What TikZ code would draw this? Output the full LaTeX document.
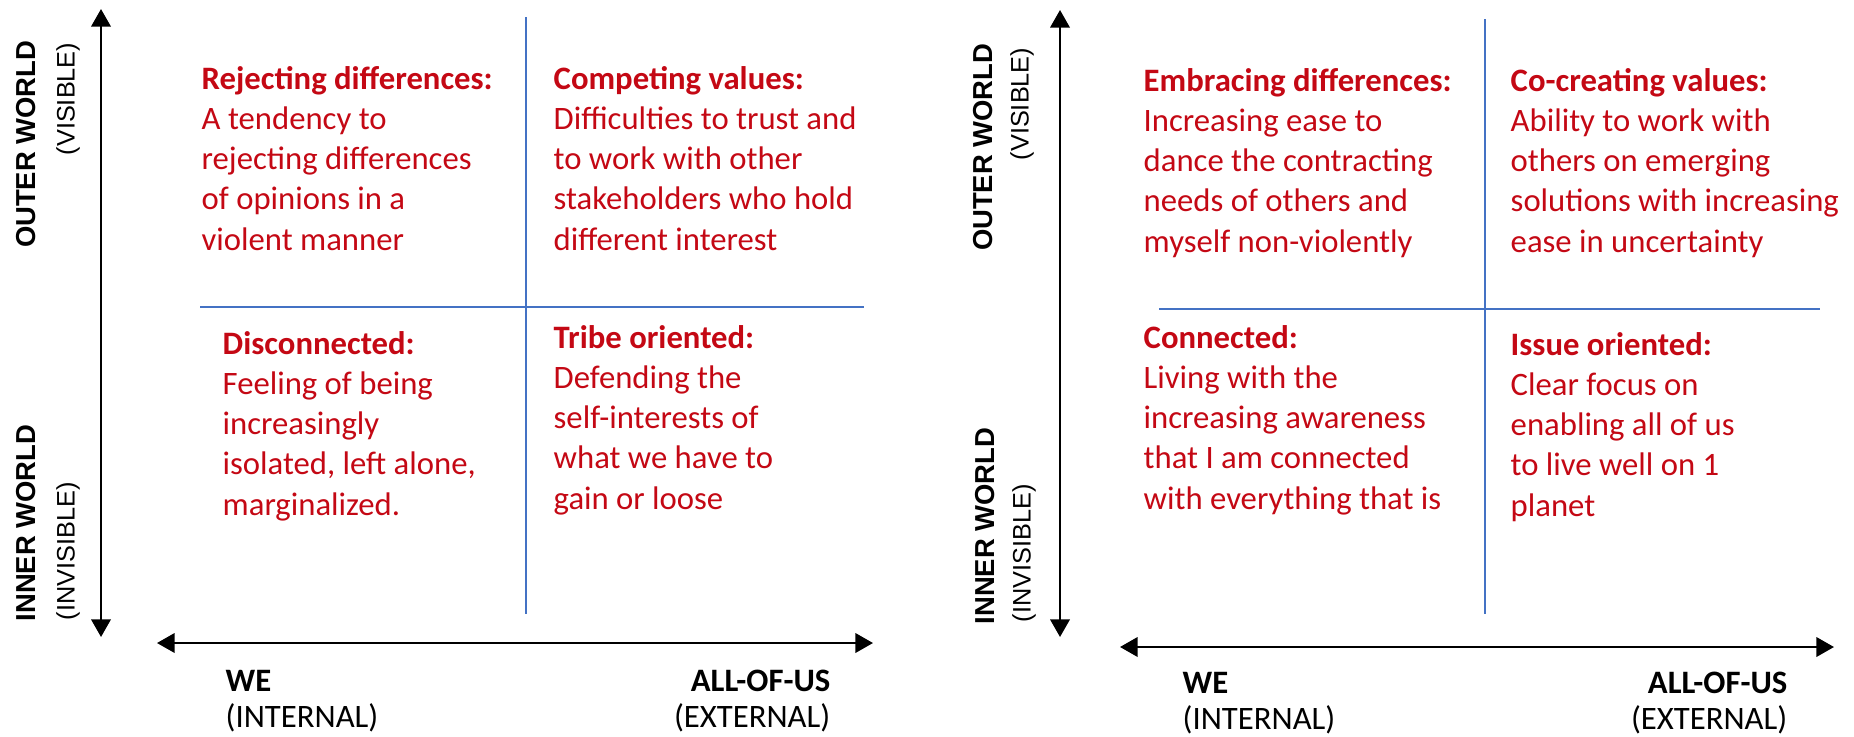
\documentclass[tikz,border=0pt]{standalone}
\usepackage{fontspec}
\setmainfont{Carlito}
\newfontfamily\axisfont{Liberation Sans}
\usetikzlibrary{arrows.meta}
\definecolor{quadred}{RGB}{196,8,20}
\definecolor{lineblue}{RGB}{68,114,196}

\tikzset{
  quad/.style={anchor=north west, inner sep=0pt, align=left, text=quadred,
    font=\fontsize{9.3}{11.4}\selectfont},
  worldlbl/.style={rotate=90, inner sep=0pt, font=\axisfont\bfseries\fontsize{7.8}{9}\selectfont},
  worldsub/.style={rotate=90, inner sep=0pt, font=\axisfont\fontsize{7.2}{9}\selectfont},
  dirlbl/.style={inner sep=0pt, font=\fontsize{9.3}{11}\selectfont},
  axisarrow/.style={line width=0.7pt, {Triangle[length=5pt,width=5.5pt]}-{Triangle[length=5pt,width=5.5pt]}},
  divider/.style={lineblue, line width=0.5pt}
}

\begin{document}
\begin{tikzpicture}[x=0.01cm, y=-0.01cm]
    \useasboundingbox (0,0) rectangle (1854,736);

    % left diagram
    \coordinate (lTop) at (101,9);
    \coordinate (lBot) at (101,637);
    \coordinate (lLeft) at (157,643);
    \coordinate (lRight) at (873,643);
    \draw[axisarrow] (lTop) -- (lBot);
    \draw[axisarrow] (lLeft) -- (lRight);
    \coordinate (lvTop) at (526,17);
    \coordinate (lvBot) at (526,614);
    \coordinate (lhLeft) at (200,307);
    \coordinate (lhRight) at (864,307);
    \draw[divider] (lvTop) -- (lvBot);
    \draw[divider] (lhLeft) -- (lhRight);

    \node[worldlbl, anchor=east] (lOuter) at (26,40) {OUTER WORLD};
    \node[worldsub, anchor=east] (lVis) at (68,42) {(VISIBLE)};
    \node[worldlbl, anchor=west] (lInner) at (26,622) {INNER WORLD};
    \node[worldsub, anchor=west] (lInvis) at (68,621) {(INVISIBLE)};

    \node[dirlbl, anchor=base west] (lWe) at (225,691) {\textbf{WE}};
    \node[dirlbl, anchor=base west] (lInt) at (225,727) {(INTERNAL)};
    \node[dirlbl, anchor=base east] (lAll) at (831,691) {\textbf{ALL-OF-US}};
    \node[dirlbl, anchor=base east] (lExt) at (831,727) {(EXTERNAL)};

    \node[quad] (reject) at (201,66) {\textbf{Rejecting differences:}\\A tendency to\\rejecting differences\\of opinions in a\\violent manner};
    \node[quad] (compete) at (553,66) {\textbf{Competing values:}\\Difficulties to trust and\\to work with other\\stakeholders who hold\\different interest};
    \node[quad] (disconn) at (222,331) {\textbf{Disconnected:}\\Feeling of being\\increasingly\\isolated, left alone,\\marginalized.};
    \node[quad] (tribe) at (553,325) {\textbf{Tribe oriented:}\\Defending the\\self-interests of\\what we have to\\gain or loose};

    % right diagram
    \coordinate (rTop) at (1060,10);
    \coordinate (rBot) at (1060,637);
    \coordinate (rLeft) at (1120,647);
    \coordinate (rRight) at (1834,647);
    \draw[axisarrow] (rTop) -- (rBot);
    \draw[axisarrow] (rLeft) -- (rRight);
    \coordinate (rvTop) at (1485,19);
    \coordinate (rvBot) at (1485,614);
    \coordinate (rhLeft) at (1159,309);
    \coordinate (rhRight) at (1820,309);
    \draw[divider] (rvTop) -- (rvBot);
    \draw[divider] (rhLeft) -- (rhRight);

    \node[worldlbl, anchor=east] (rOuter) at (983,43) {OUTER WORLD};
    \node[worldsub, anchor=east] (rVis) at (1022,47) {(VISIBLE)};
    \node[worldlbl, anchor=west] (rInner) at (985,625) {INNER WORLD};
    \node[worldsub, anchor=west] (rInvis) at (1024,623) {(INVISIBLE)};

    \node[dirlbl, anchor=base west] (rWe) at (1182,693) {\textbf{WE}};
    \node[dirlbl, anchor=base west] (rInt) at (1182,729) {(INTERNAL)};
    \node[dirlbl, anchor=base east] (rAll) at (1788,693) {\textbf{ALL-OF-US}};
    \node[dirlbl, anchor=base east] (rExt) at (1788,729) {(EXTERNAL)};

    \node[quad] (embrace) at (1143,68) {\textbf{Embracing differences:}\\Increasing ease to\\dance the contracting\\needs of others and\\myself non-violently};
    \node[quad] (cocreate) at (1510,68) {\textbf{Co-creating values:}\\Ability to work with\\others on emerging\\solutions with increasing\\ease in uncertainty};
    \node[quad] (connect) at (1143,325) {\textbf{Connected:}\\Living with the\\increasing awareness\\that I am connected\\with everything that is};
    \node[quad] (issue) at (1510,332) {\textbf{Issue oriented:}\\Clear focus on\\enabling all of us\\to live well on 1\\planet};
\end{tikzpicture}
\end{document}
